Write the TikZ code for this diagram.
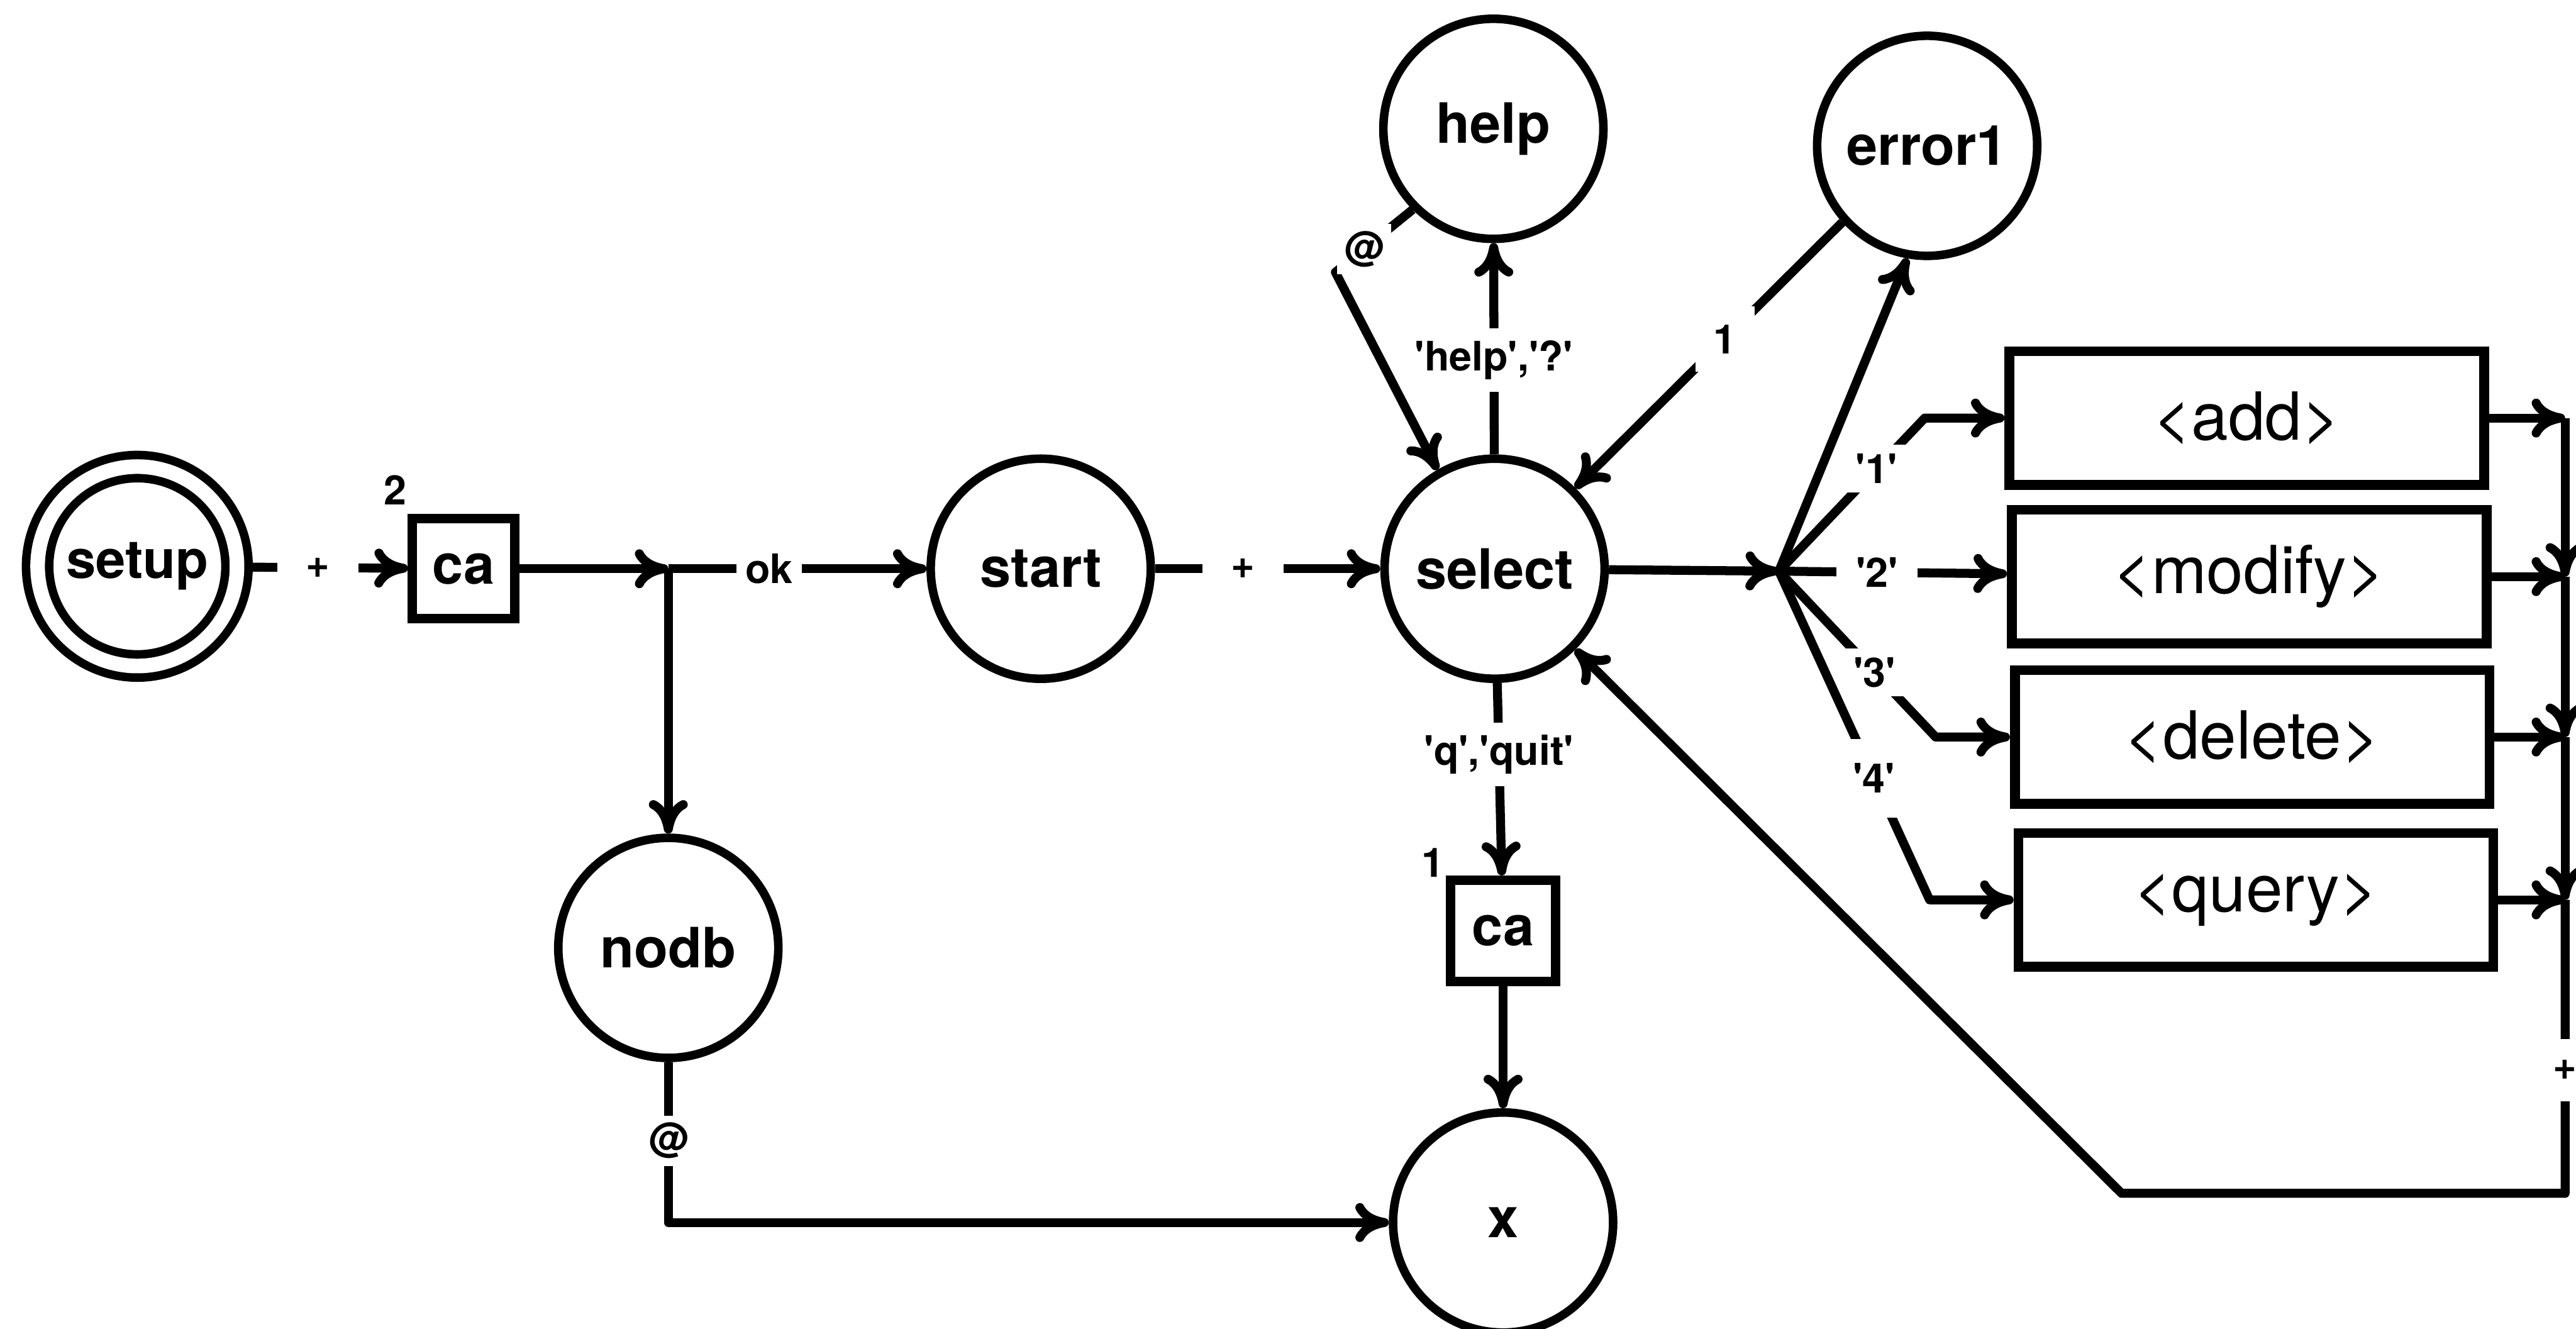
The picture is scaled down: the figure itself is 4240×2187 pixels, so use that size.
\documentclass[tikz,border=0pt]{standalone}
\usepackage{fontspec}
\setmainfont{TeX Gyre Heros}
\usetikzlibrary{arrows.meta}

\newcommand\sq{\textquotesingle}

\begin{document}
\begin{tikzpicture}[x=0.01cm, y=-0.01cm,
  >={Computer Modern Rightarrow[length=0.55cm,width=0.64cm]},
  state/.style={circle, draw, line width=4pt, minimum size=3.62cm, inner sep=0pt,
                font=\fontsize{26}{28}\selectfont\bfseries},
  proc/.style={rectangle, draw, line width=4.6pt, minimum width=7.81cm, minimum height=2.2cm,
               inner sep=0pt, font=\fontsize{31}{33}\selectfont},
  cabox/.style={rectangle, draw, line width=4.4pt, minimum width=1.68cm, minimum height=1.64cm,
                inner sep=0pt, font=\fontsize{26}{28}\selectfont\bfseries},
  wire/.style={line width=4.2pt, line join=round},
  lbl/.style={fill=white, font=\fontsize{19}{21}\selectfont\bfseries, inner sep=0.15cm},
  num/.style={font=\fontsize{19}{21}\selectfont\bfseries, inner sep=0pt},
]
\useasboundingbox (0,0) rectangle (4240,2187);

% states
\node[state, double, double distance=0.24cm, minimum size=3.28cm, outer sep=0.26cm,
      font=\fontsize{25}{27}\selectfont\bfseries] (setup) at (226,932) {setup};
\node[state] (start)  at (1713,936) {start};
\node[state] (select) at (2460,936) {select};
\node[state] (help)   at (2458,212) {help};
\node[state] (error1) at (3172,240) {error1};
\node[state] (nodb)   at (1100,1560) {nodb};
\node[state] (x)      at (2474,2012) {x};

% action boxes
\node[cabox] (ca2) at (763,936) {ca};
\node[num] (n2) at (651,806) {2};
\node[cabox, minimum width=1.72cm, minimum height=1.67cm] (ca1) at (2474,1532) {ca};
\node[num] (n1) at (2358,1420) {1};

% sub-procedure boxes
\node[proc] (add)    at (3698,688)  {<add>};
\node[proc] (modify) at (3702,949)  {<modify>};
\node[proc] (delete) at (3707,1213) {<delete>};
\node[proc] (query)  at (3713,1481) {<query>};

% junctions and bends
\coordinate (J)  at (1100,936);
\coordinate (F)  at (2928,940);
\coordinate (hb) at (2198,448);
\coordinate (b1) at (3168,688);
\coordinate (b3) at (3186,1213);
\coordinate (b4) at (3176,1481);
\coordinate (r1) at (4222,688);
\coordinate (r2) at (4222,949);
\coordinate (r3) at (4222,1213);
\coordinate (r4) at (4222,1481);
\coordinate (r5) at (4222,1964);
\coordinate (r6) at (3492,1964);

% main line
\draw[wire,->] (setup) -- node[lbl, pos=0.42, inner xsep=0.47cm] {+} (ca2);
\draw[wire,->] (ca2) -- (J);
\draw[wire,->] (J) -- node[lbl, pos=0.39] {ok} (start);
\draw[wire,->] (J) -- (nodb);
\draw[wire,->] (start) -- node[lbl, pos=0.39, inner xsep=0.47cm] {+} (select);

% help and error loops
\draw[wire,->] (select) -- node[lbl, pos=0.446, inner ysep=0.2cm] {\sq help\sq,\sq ?\sq} (help);
\draw[wire,->] (help.225) -- node[lbl, pos=0.63, inner sep=0.12cm] {@} (hb) -- (select.120);
\draw[wire,->] (error1.222) -- node[lbl, pos=0.44, inner sep=0.3cm] {1} (select.45);

% menu fork
\draw[wire,->] (select) -- (F);
\draw[wire,->] (F) -- (error1.260);
\draw[wire,->] (F) -- node[lbl, pos=0.67] {\sq 1\sq} (b1) -- (add);
\draw[wire,->] (F) -- node[lbl, pos=0.43, inner xsep=0.32cm] {\sq 2\sq} (modify);
\draw[wire,->] (F) -- node[lbl, pos=0.61] {\sq 3\sq} (b3) -- (delete);
\draw[wire,->] (F) -- node[lbl, pos=0.63, inner ysep=0.4cm] {\sq 4\sq} (b4) -- (query);

% return path
\draw[wire,->] (add) -- (r1);
\draw[wire,->] (modify) -- (r2);
\draw[wire,->] (delete) -- (r3);
\draw[wire,->] (query) -- (r4);
\draw[wire,->] (r1) -- (r2);
\draw[wire,->] (r2) -- (r3);
\draw[wire,->] (r3) -- (r4);
\draw[wire,->] (r4) -- node[lbl, pos=0.58, inner ysep=0.35cm] {+} (r5) -- (r6) -- (select.-45);

% exits
\draw[wire,->] (select) -- node[lbl, pos=0.37, inner ysep=0.2cm] {\sq q\sq,\sq quit\sq} (ca1);
\draw[wire,->] (ca1) -- (x);
\draw[wire,->] (nodb) -- node[lbl, pos=0.49, inner sep=0.12cm] {@} (nodb |- x) -- (x);
\end{tikzpicture}
\end{document}
